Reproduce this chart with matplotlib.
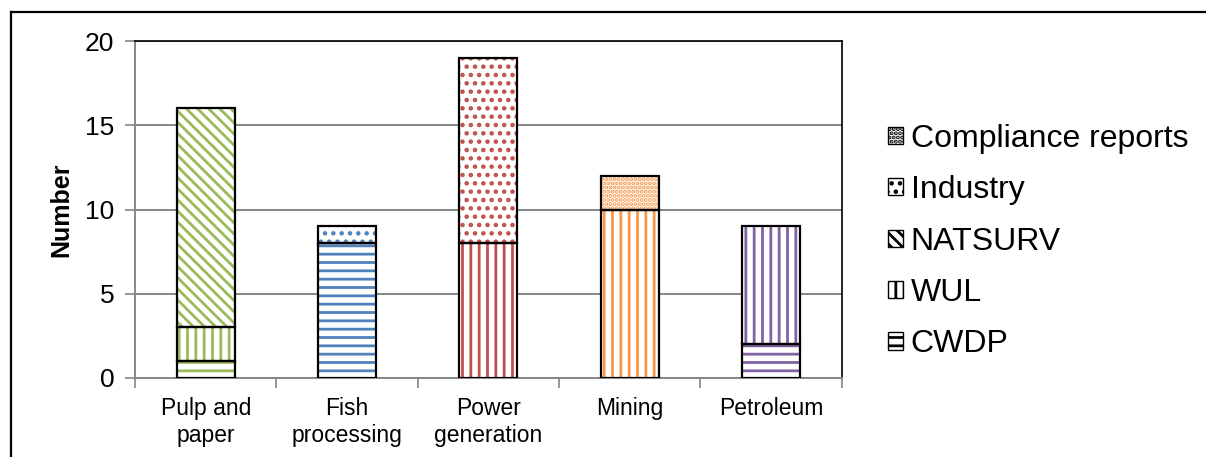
import numpy as np
import matplotlib.pyplot as plt
from matplotlib.patches import Patch
from matplotlib.lines import Line2D

plt.rcParams['font.family'] = ['Liberation Sans', 'DejaVu Sans']
plt.rcParams['hatch.linewidth'] = 2.0

# Number of sources per sector and data source
sectors = ['Pulp and\npaper', 'Fish\nprocessing', 'Power\ngeneration', 'Mining', 'Petroleum']
cwdp = [1, 8, 0, 0, 2]
wul = [2, 0, 8, 10, 7]
natsurv = [13, 0, 0, 0, 0]
industry = [0, 1, 11, 0, 0]
compliance = [0, 0, 0, 2, 0]

sector_colors = ['#9BBB59', '#4F81BD', '#C0504D', '#F79646', '#8064A2']

series = [('CWDP', cwdp, '--'),
          ('WUL', wul, '||'),
          ('NATSURV', natsurv, '\\\\\\'),
          ('Industry', industry, '..'),
          ('Compliance reports', compliance, '....')]

fig = plt.figure(figsize=(12.06, 4.57), dpi=100)
ax = fig.add_axes([0.112, 0.173, 0.586, 0.737])

x = np.arange(len(sectors))
width = 0.41
bottom = np.zeros(len(sectors))
for name, vals, hatch in series:
    vals = np.array(vals, dtype=float)
    for i in range(len(sectors)):
        if vals[i] == 0:
            continue
        # hatch in the sector colour, then a black outline on top
        ax.bar(x[i], vals[i], width, bottom=bottom[i], color='white',
               edgecolor=sector_colors[i], hatch=hatch, linewidth=0, zorder=3)
        ax.bar(x[i], vals[i], width, bottom=bottom[i], fill=False,
               edgecolor='black', linewidth=1.6, zorder=4)
    bottom += vals

ax.set_xlim(-0.5, len(sectors) - 0.5)
ax.set_ylim(0, 20)
ax.set_yticks(range(0, 21, 5))
ax.set_xticks(x)
ax.set_xticklabels(sectors, fontsize=16.5)
ax.set_xticks(np.arange(-0.5, len(sectors)), minor=True)
ax.tick_params(axis='x', which='major', length=0, pad=14)
ax.tick_params(axis='x', which='minor', length=7, width=1.2, color='#868686')
ax.tick_params(axis='y', length=7, width=1.2, color='#868686', labelsize=19, pad=8)
ax.set_ylabel('Number', fontsize=18, fontweight='bold', labelpad=8)

ax.grid(axis='y', color='#868686', linewidth=1.4, zorder=0)
ax.set_axisbelow(True)
for side in ['left', 'bottom']:
    ax.spines[side].set_color('#868686')
    ax.spines[side].set_linewidth(1.4)
for side in ['top', 'right']:
    ax.spines[side].set_color('black')
    ax.spines[side].set_linewidth(1.2)

handles = [Patch(facecolor='white', edgecolor='black', hatch=h, linewidth=1.0, label=n)
           for n, v, h in series][::-1]
ax.legend(handles=handles, loc='center left', bbox_to_anchor=(1.025, 0.405),
          frameon=False, fontsize=23, handlelength=0.45, handleheight=0.45,
          handletextpad=0.25, labelspacing=0.67)

# outer frame lines
fig.add_artist(Line2D([0.0092, 0.0092], [0, 0.974], color='black', linewidth=1.6,
                      transform=fig.transFigure))
fig.add_artist(Line2D([0.0092, 1.0], [0.974, 0.974], color='black', linewidth=1.6,
                      transform=fig.transFigure))

fig.savefig('out.png', dpi=100)
